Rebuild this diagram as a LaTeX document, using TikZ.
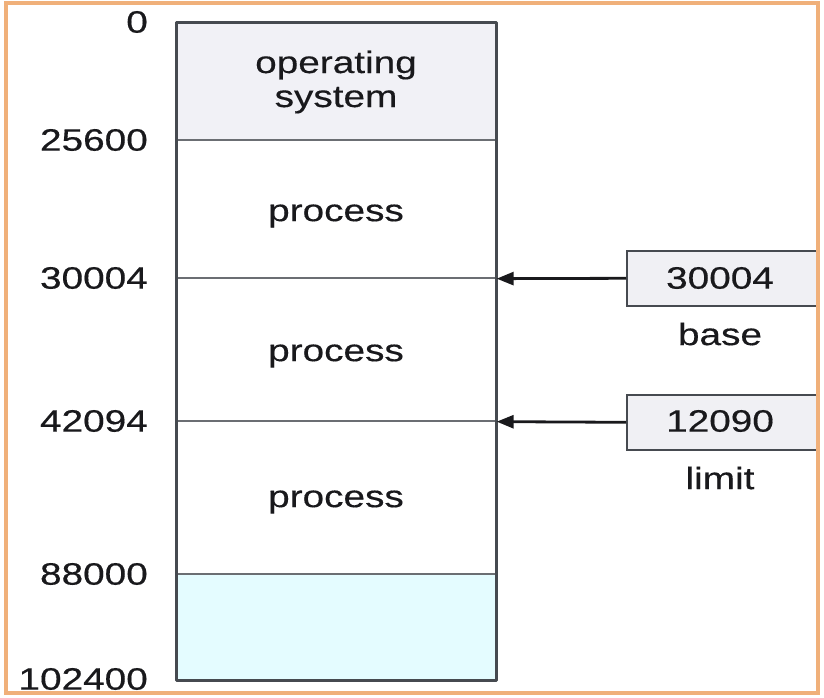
\documentclass[tikz,border=0pt]{standalone}
\usepackage{fontspec}
\setmainfont[FakeStretch=1.25,FakeBold=0.4]{Liberation Sans}
\usetikzlibrary{arrows.meta}
\definecolor{frameorange}{RGB}{240,176,122}
\definecolor{osfill}{RGB}{241,241,246}
\definecolor{freefill}{RGB}{228,252,255}
\definecolor{regfill}{RGB}{240,240,244}
\definecolor{edge}{RGB}{70,74,80}
\definecolor{ink}{RGB}{25,25,28}
\tikzset{
  txt/.style={font=\fontsize{31}{34}\selectfont, text=ink, inner sep=0pt},
  addr/.style={txt, anchor=east},
  region/.style={draw=edge!80, line width=1.3pt, inner sep=0pt, minimum width=319pt},
  regbox/.style={draw=edge, line width=1.6pt, fill=regfill, inner sep=0pt,
                 minimum width=190pt, minimum height=55pt, anchor=north west},
  ptr/.style={draw=ink, line width=2.8pt, -{Triangle[length=17pt,width=13pt]}}
}
\begin{document}
\begin{tikzpicture}[x=1pt,y=-1pt]
  \useasboundingbox (0,0) rectangle (824,698);
  \fill[white] (0,0) rectangle (824,698);

  % memory regions
  \node[region, fill=osfill, minimum height=117pt] (os) at (336.5,81.5) {};
  \node[region, minimum height=138pt] (p1) at (336.5,209) {};
  \node[region, minimum height=143pt] (p2) at (336.5,349.5) {};
  \node[region, minimum height=153pt] (p3) at (336.5,497.5) {};
  \node[region, fill=freefill, minimum height=106pt] (free) at (336.5,627) {};
  \draw[edge, line width=2.6pt, line join=round] (os.north west) rectangle (free.south east);

  % region labels
  \node[txt, align=center] at (336,82) {operating\\system};
  \node[txt] at (336,216) {process};
  \node[txt] at (336,356) {process};
  \node[txt] at (336,502) {process};

  % addresses
  \node[addr] at (148,22) {0};
  \node[addr] at (148,140) {25600};
  \node[addr] at (148,278) {30004};
  \node[addr] at (148,421) {42094};
  \node[addr] at (148,574) {88000};
  \node[addr] at (148,679) {102400};

  % base and limit registers
  \node[regbox] (base) at (626,250) {};
  \node[txt] at (720,278) {30004};
  \node[txt] at (720,334) {base};
  \node[regbox] (limit) at (626,394) {};
  \node[txt] at (720,421) {12090};
  \node[txt] at (720,478) {limit};

  \draw[ptr] (base.west) -- (p1.south east);
  \draw[ptr] (limit.west) -- (p2.south east);

  % outer frame
  \draw[frameorange, line width=4pt] (5.5,3.5) rectangle (817.5,692.5);
\end{tikzpicture}
\end{document}
